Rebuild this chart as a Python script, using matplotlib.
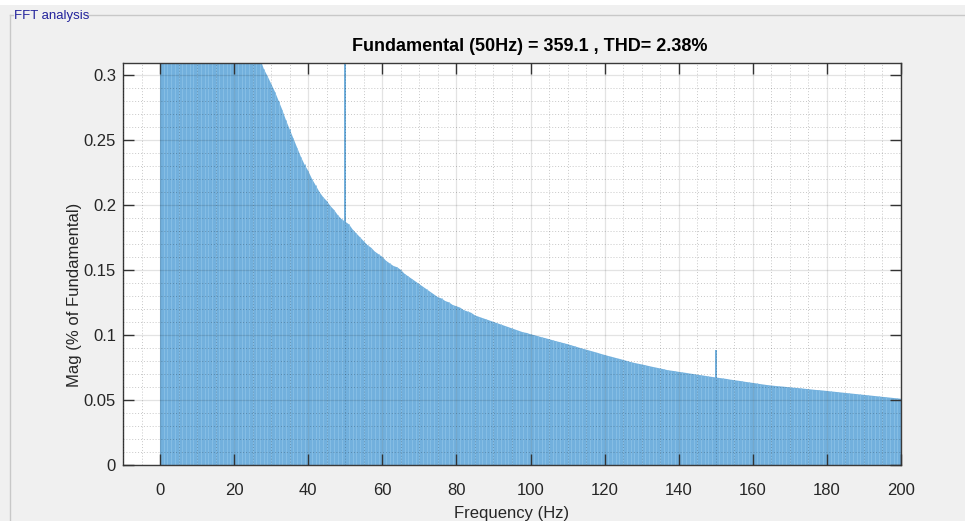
import matplotlib
matplotlib.use("Agg")
import matplotlib.pyplot as plt
from matplotlib.lines import Line2D
from matplotlib.patches import Rectangle
from matplotlib.ticker import MultipleLocator, FixedLocator

# ---------------- data ----------------
freqs = list(range(0, 201))  # Hz, 1 Hz spacing
# spectrum floor (non-harmonic bins), % of fundamental
mag_0_26 = [0.281, 9.1, 4.6, 3.0, 2.3, 1.8, 1.5, 1.3, 1.1, 1.0, 0.90, 0.82, 0.75,
            0.69, 0.64, 0.60, 0.56, 0.53, 0.50, 0.47, 0.45, 0.43, 0.40, 0.38,
            0.36, 0.345, 0.33]
mag_27_50 = [0.3125, 0.3045, 0.299, 0.293, 0.287, 0.280, 0.273, 0.265, 0.258, 0.251,
             0.244, 0.237, 0.231, 0.226, 0.220, 0.215, 0.210, 0.206, 0.203, 0.199,
             0.196, 0.192, 0.189, 0.187]
mag_51_100 = [0.185, 0.181, 0.178, 0.175, 0.172, 0.169, 0.167, 0.164, 0.162, 0.160,
              0.157, 0.155, 0.153, 0.152, 0.150, 0.147, 0.145, 0.143, 0.141, 0.139,
              0.137, 0.135, 0.133, 0.131, 0.129, 0.128, 0.126, 0.125, 0.123, 0.122,
              0.121, 0.119, 0.118, 0.117, 0.115, 0.114, 0.113, 0.112, 0.111, 0.110,
              0.109, 0.108, 0.107, 0.106, 0.105, 0.104, 0.103, 0.102, 0.1015, 0.1005]
mag_101_150 = [0.0998, 0.0990, 0.0982, 0.0975, 0.0967, 0.0959, 0.0951, 0.0944, 0.0936,
               0.0929, 0.0920, 0.0912, 0.0903, 0.0895, 0.0887, 0.0879, 0.0871, 0.0863,
               0.0854, 0.0846, 0.0838, 0.0831, 0.0823, 0.0816, 0.0808, 0.0800, 0.0792,
               0.0785, 0.0779, 0.0773, 0.0767, 0.0760, 0.0754, 0.0748, 0.0742, 0.0736,
               0.0729, 0.0725, 0.0721, 0.0716, 0.0712, 0.0708, 0.0703, 0.0699, 0.0694,
               0.0690, 0.0686, 0.0681, 0.0677, 0.0673]
mag_151_200 = [0.0669, 0.0665, 0.0661, 0.0656, 0.0652, 0.0648, 0.0644, 0.0639, 0.0635,
               0.0631, 0.0627, 0.0622, 0.0618, 0.0614, 0.0611, 0.0608, 0.0605, 0.0603,
               0.0600, 0.0597, 0.0594, 0.0592, 0.0589, 0.0586, 0.0583, 0.0580, 0.0577,
               0.0575, 0.0572, 0.0569, 0.0566, 0.0563, 0.0560, 0.0557, 0.0554, 0.0551,
               0.0548, 0.0545, 0.0542, 0.0539, 0.0536, 0.0533, 0.0530, 0.0527, 0.0524,
               0.0521, 0.0518, 0.0515, 0.0512, 0.0509]
mags = mag_0_26 + mag_27_50 + mag_51_100 + mag_101_150 + mag_151_200

# harmonic bins
harm_freqs = [50, 150]
harm_mags = [100.0, 0.0885]

x_ticks = [0, 20, 40, 60, 80, 100, 120, 140, 160, 180, 200]
y_ticks = [0, 0.05, 0.1, 0.15, 0.2, 0.25, 0.3]
y_tick_labels = ["0", "0.05", "0.1", "0.15", "0.2", "0.25", "0.3"]
title_text = "Fundamental (50Hz) = 359.1 , THD= 2.38%"
panel_title = "FFT analysis"

fam = ["Liberation Sans", "DejaVu Sans"]
bar_col = "#72b0dd"

# ---------------- figure ----------------
W, H = 965, 521
fig = plt.figure(figsize=(W / 100, H / 100), dpi=100, facecolor="#f0f0f0")

fig.add_artist(Rectangle((0, 1 - 5 / H), 1, 5 / H, transform=fig.transFigure,
                         facecolor="white", edgecolor="none", zorder=0))
box_col = "#c8c8c8"
ytop = 1 - 15 / H
fig.add_artist(Line2D([10 / W, 10 / W], [0, ytop], transform=fig.transFigure,
                      color=box_col, lw=1))
fig.add_artist(Line2D([10 / W, 13 / W], [ytop, ytop], transform=fig.transFigure,
                      color=box_col, lw=1))
fig.add_artist(Line2D([86 / W, 1.0], [ytop, ytop], transform=fig.transFigure,
                      color=box_col, lw=1))
fig.text(14 / W, ytop - 1 / H, panel_title, family=fam, fontsize=9.5,
         color="#23239c", ha="left", va="center")

ax = fig.add_axes([123 / W, 1 - 465 / H, (901 - 123) / W, (465 - 63) / H])
ax.set_facecolor("white")

# filled spectrum (bars are sub-pixel wide in the original -> solid area)
ax.fill_between(freqs, 0, mags, color=bar_col, lw=0, zorder=1)
ax.vlines(freqs[1:], 0, mags[1:], color="#86bee5", lw=0.7, zorder=1.1)
ax.bar(harm_freqs, harm_mags, width=0.45, color=bar_col, lw=0, zorder=1.2)

ax.set_xlim(-10, 200)
ax.set_ylim(0, 0.309)

ax.xaxis.set_major_locator(FixedLocator(x_ticks))
ax.xaxis.set_minor_locator(MultipleLocator(5))
ax.yaxis.set_major_locator(FixedLocator(y_ticks))
ax.yaxis.set_minor_locator(MultipleLocator(0.01))
ax.set_yticklabels(y_tick_labels)

ax.set_axisbelow(False)
ax.grid(which="major", color="black", alpha=0.11, lw=0.9, ls="-")
ax.grid(which="minor", color="black", alpha=0.22, lw=0.7, ls=(0, (1, 2)))

ax.tick_params(which="major", direction="in", length=8, width=1, color="#333333",
               top=True, right=True, labelsize=12, labelcolor="#262626")
ax.tick_params(which="minor", length=0, top=True, right=True)
ax.tick_params(axis="x", which="major", pad=13)
ax.tick_params(axis="y", which="major", pad=5)
for lab in ax.get_xticklabels() + ax.get_yticklabels():
    lab.set_family(fam)

for s in ax.spines.values():
    s.set_color("#3a3a3a")
    s.set_linewidth(1)

ax.set_title(title_text, family=fam, fontsize=13, fontweight="bold",
             x=0.523, pad=8.5, color="black")
ax.set_xlabel("Frequency (Hz)", family=fam, fontsize=12, color="#262626")
ax.xaxis.set_label_coords(0.5, -(518 - 465) / 402)
ax.xaxis.label.set_va("baseline")
ax.set_ylabel("Mag (% of Fundamental)", family=fam, fontsize=12, color="#262626")
ax.yaxis.set_label_coords(-(123 - 75) / 778, (465 - 295) / 402)
ax.yaxis.label.set_va("center")

fig.savefig("out.png", dpi=100, facecolor=fig.get_facecolor())
